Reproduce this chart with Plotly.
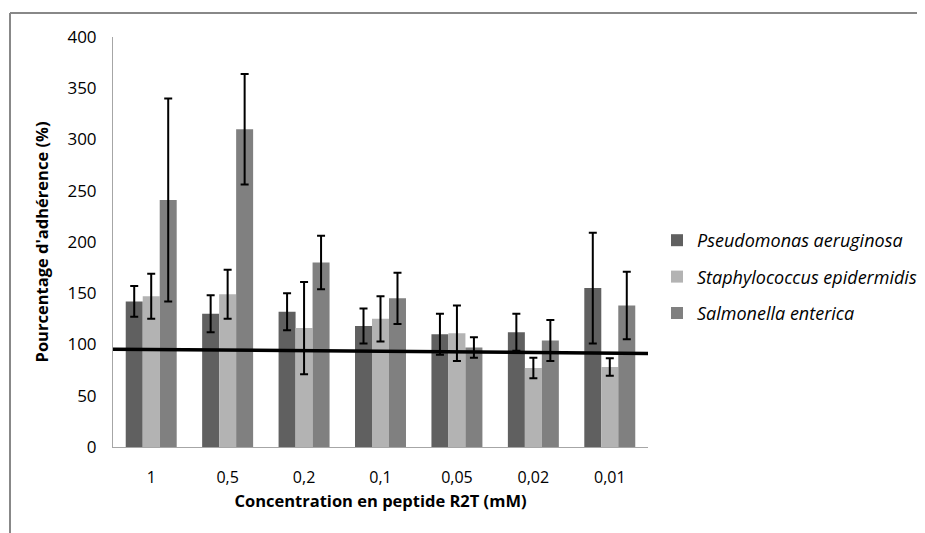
import plotly.graph_objects as go

categories = ["1", "0,5", "0,2", "0,1", "0,05", "0,02", "0,01"]
series_names = ["Pseudomonas aeruginosa", "Staphylococcus epidermidis", "Salmonella enterica"]
pseudomonas = [142, 130, 132, 118, 110, 112, 155]
pseudomonas_err = [15, 18, 18, 17, 20, 18, 54]
staphylococcus = [147, 149, 116, 125, 111, 77, 78]
staphylococcus_err = [22, 24, 45, 22, 27, 10, 8.5]
salmonella = [241, 310, 180, 145, 97, 104, 138]
salmonella_err = [99, 54, 26, 25, 10, 20, 33]
trend_x = [-0.5, 6.5]
trend_y = [95.4, 91.3]
y_ticks = [0, 50, 100, 150, 200, 250, 300, 350, 400]

colors = ["#606060", "#b3b3b3", "#808080"]
values = [pseudomonas, staphylococcus, salmonella]
errors = [pseudomonas_err, staphylococcus_err, salmonella_err]

FONT = "Open Sans"
xpos = list(range(len(categories)))

fig = go.Figure()
for i, name in enumerate(series_names):
    fig.add_trace(go.Bar(
        x=xpos, y=values[i], name="<i>" + name + "</i>",
        marker=dict(color=colors[i], line=dict(width=0)),
        error_y=dict(type="data", array=errors[i], visible=True,
                     color="black", thickness=2, width=4),
        legendgroup=str(i),
    ))

fig.add_trace(go.Scatter(
    x=trend_x, y=trend_y, mode="lines",
    line=dict(color="black", width=3.5),
    showlegend=False, hoverinfo="skip",
))

# page body has an 8px margin: the figure is drawn from window pixel (8, 8)
OFF = 8
W, H = 925 - OFF, 533 - OFF
# plot area in window pixels: x 113..648, y 37..447
L, T = 113 - OFF, 37 - OFF
R = W - (648 - OFF)
B = H - (447 - OFF)
pw, ph = W - L - R, H - T - B

def px(x):  # window pixel -> paper
    return (x - OFF - L) / pw

def py(y):
    return (H - B - (y - OFF)) / ph

fig.update_layout(
    width=W, height=H,
    margin=dict(l=L, r=R, t=T, b=B, autoexpand=False),
    paper_bgcolor="white", plot_bgcolor="white",
    barmode="group", bargap=0.333, bargroupgap=0,
    font=dict(family=FONT, color="#000000"),
    showlegend=True,
    legend=dict(
        x=px(657), y=py(222), xanchor="left", yanchor="top",
        font=dict(family=FONT, size=18, color="#000000"),
        traceorder="grouped", tracegroupgap=10,
        itemclick=False, itemdoubleclick=False,
    ),
    xaxis=dict(
        range=[-0.5, 6.5], tickmode="array", tickvals=xpos, ticktext=categories,
        showline=True, linecolor="#a6a6a6", linewidth=1,
        ticks="", showgrid=False, zeroline=False, automargin=False,
        tickfont=dict(family=FONT, size=16, color="#000000"),
        ticklabelstandoff=16,
        title=dict(text="<b>Concentration en peptide R2T (mM)</b>",
                   font=dict(family=FONT, size=16.5, color="#000000"), standoff=8),
    ),
    yaxis=dict(
        range=[0, 400], tickmode="array", tickvals=y_ticks,
        showline=True, linecolor="#a6a6a6", linewidth=1,
        ticks="", showgrid=False, zeroline=False, automargin=False,
        tickfont=dict(family=FONT, size=17, color="#000000"),
        ticklabelstandoff=12,
        title=dict(text="<b>Pourcentage d'adhérence (%)</b>",
                   font=dict(family=FONT, size=16.5, color="#000000"), standoff=14),
    ),
    shapes=[
        dict(type="line", xref="paper", yref="paper",
             x0=px(10), x1=px(930), y0=py(13), y1=py(13),
             line=dict(color="#888888", width=2)),
        dict(type="line", xref="paper", yref="paper",
             x0=px(10), x1=px(10), y0=py(13), y1=py(540),
             line=dict(color="#888888", width=2)),
    ],
)

fig.write_html("out.html")
